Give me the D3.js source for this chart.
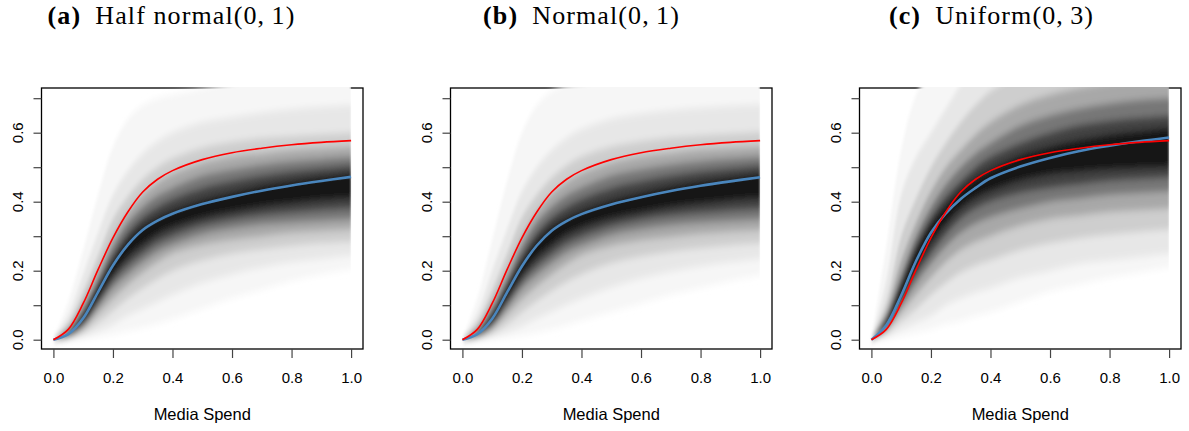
<!DOCTYPE html>
<html><head><meta charset="utf-8">
<script src="https://cdn.jsdelivr.net/npm/d3@7"></script>
<style>body{margin:0;background:#fff}</style>
</head><body>
<svg id="chart" width="1189" height="431"></svg>
<script>
// ---------- data ----------
const spend = [0, 0.05, 0.1, 0.15, 0.2, 0.25, 0.3, 0.35, 0.4, 0.5, 0.6, 0.7, 0.8, 0.9, 1.0];
const panelTags = ["(a)", "(b)", "(c)"];
const panelNames = ["Half normal(0,\u20091)", "Normal(0,\u20091)", "Uniform(0,\u20093)"];
const xTicks = [0, 0.2, 0.4, 0.6, 0.8, 1.0];
const yTicks = [0, 0.1, 0.2, 0.3, 0.4, 0.5, 0.6, 0.7];
const yLabelled = [0, 0.2, 0.4, 0.6];
const xTitle = "Media Spend";

// true response curve (red), same in all panels
const trueCurve = [0, 0.03, 0.105, 0.203, 0.295, 0.37, 0.428, 0.465, 0.49, 0.522, 0.542, 0.555, 0.565, 0.572, 0.577];
// posterior median curves (blue)
const medianA = [0, 0.016, 0.062, 0.138, 0.215, 0.275, 0.318, 0.345, 0.365, 0.393, 0.414, 0.432, 0.447, 0.46, 0.472];
const medianB = [0, 0.016, 0.061, 0.137, 0.213, 0.273, 0.316, 0.344, 0.364, 0.392, 0.413, 0.431, 0.446, 0.459, 0.471];
const medianC = [0, 0.042, 0.128, 0.228, 0.31, 0.366, 0.408, 0.44, 0.468, 0.502, 0.527, 0.547, 0.562, 0.575, 0.586];

// posterior bands: outermost (lightest) first
const bandShades = ["#f6f6f6", "#e7e7e7", "#cecece", "#a8a8a8", "#777777", "#434343", "#121212"];

const bandLoA = [
  [0, 0, 0.003, 0.008, 0.015, 0.025, 0.035, 0.047, 0.06, 0.09, 0.12, 0.145, 0.17, 0.19, 0.205],
  [0, 0.002, 0.01, 0.025, 0.045, 0.07, 0.09, 0.11, 0.13, 0.165, 0.19, 0.21, 0.225, 0.235, 0.245],
  [0, 0.004, 0.02, 0.05, 0.085, 0.12, 0.15, 0.177, 0.20, 0.23, 0.25, 0.262, 0.272, 0.28, 0.285],
  [0, 0.007, 0.03, 0.075, 0.12, 0.16, 0.195, 0.225, 0.25, 0.275, 0.29, 0.30, 0.31, 0.315, 0.32],
  [0, 0.009, 0.039, 0.094, 0.15, 0.19, 0.225, 0.255, 0.275, 0.305, 0.322, 0.334, 0.34, 0.345, 0.35],
  [0, 0.011, 0.046, 0.108, 0.17, 0.215, 0.25, 0.28, 0.30, 0.33, 0.348, 0.36, 0.368, 0.375, 0.38],
  [0, 0.013, 0.053, 0.123, 0.19, 0.24, 0.275, 0.305, 0.325, 0.352, 0.37, 0.385, 0.395, 0.404, 0.41]
];
const bandHiA = [
  [0, 0.11, 0.26, 0.42, 0.56, 0.64, 0.68, 0.70, 0.71, 0.728, 0.75, 0.78, 0.80, 0.82, 0.84],
  [0, 0.07, 0.19, 0.31, 0.42, 0.49, 0.54, 0.575, 0.60, 0.63, 0.645, 0.658, 0.668, 0.675, 0.68],
  [0, 0.05, 0.14, 0.245, 0.35, 0.415, 0.465, 0.50, 0.525, 0.556, 0.573, 0.584, 0.59, 0.595, 0.60],
  [0, 0.036, 0.113, 0.204, 0.30, 0.37, 0.42, 0.455, 0.48, 0.512, 0.53, 0.54, 0.55, 0.555, 0.56],
  [0, 0.028, 0.092, 0.178, 0.27, 0.34, 0.385, 0.418, 0.44, 0.475, 0.493, 0.507, 0.517, 0.524, 0.53],
  [0, 0.023, 0.079, 0.162, 0.245, 0.31, 0.355, 0.385, 0.408, 0.44, 0.46, 0.476, 0.488, 0.497, 0.505],
  [0, 0.019, 0.069, 0.149, 0.225, 0.288, 0.33, 0.355, 0.375, 0.405, 0.427, 0.446, 0.46, 0.472, 0.482]
];

const bandLoB = [
  [0, 0, 0.002, 0.006, 0.012, 0.02, 0.03, 0.042, 0.055, 0.08, 0.105, 0.13, 0.15, 0.17, 0.187],
  [0, 0.002, 0.009, 0.022, 0.04, 0.062, 0.082, 0.102, 0.12, 0.152, 0.178, 0.198, 0.213, 0.225, 0.235],
  [0, 0.004, 0.018, 0.046, 0.08, 0.113, 0.142, 0.168, 0.19, 0.222, 0.242, 0.256, 0.266, 0.274, 0.28],
  [0, 0.007, 0.029, 0.072, 0.117, 0.156, 0.19, 0.22, 0.245, 0.272, 0.288, 0.298, 0.307, 0.313, 0.318],
  [0, 0.009, 0.038, 0.092, 0.148, 0.188, 0.222, 0.252, 0.272, 0.303, 0.32, 0.332, 0.339, 0.344, 0.349],
  [0, 0.011, 0.045, 0.107, 0.168, 0.213, 0.248, 0.278, 0.298, 0.328, 0.347, 0.359, 0.367, 0.374, 0.379],
  [0, 0.013, 0.052, 0.122, 0.189, 0.238, 0.274, 0.304, 0.324, 0.351, 0.369, 0.384, 0.394, 0.403, 0.409]
];
const bandHiB = [
  [0, 0.12, 0.29, 0.46, 0.60, 0.68, 0.72, 0.74, 0.75, 0.77, 0.79, 0.81, 0.83, 0.84, 0.85],
  [0, 0.075, 0.20, 0.32, 0.43, 0.50, 0.55, 0.585, 0.61, 0.64, 0.655, 0.665, 0.672, 0.678, 0.682],
  [0, 0.052, 0.145, 0.25, 0.355, 0.42, 0.47, 0.505, 0.53, 0.559, 0.575, 0.586, 0.592, 0.597, 0.602],
  [0, 0.037, 0.115, 0.206, 0.302, 0.372, 0.422, 0.457, 0.482, 0.513, 0.531, 0.541, 0.551, 0.556, 0.561],
  [0, 0.028, 0.093, 0.179, 0.271, 0.341, 0.386, 0.419, 0.441, 0.476, 0.494, 0.508, 0.518, 0.525, 0.531],
  [0, 0.023, 0.079, 0.162, 0.245, 0.31, 0.355, 0.385, 0.408, 0.44, 0.46, 0.476, 0.488, 0.497, 0.505],
  [0, 0.019, 0.068, 0.148, 0.224, 0.287, 0.329, 0.354, 0.374, 0.404, 0.426, 0.445, 0.459, 0.471, 0.481]
];

const bandLoC = [
  [0, 0.002, 0.01, 0.02, 0.03, 0.045, 0.055, 0.068, 0.08, 0.11, 0.14, 0.16, 0.18, 0.195, 0.21],
  [0, 0.008, 0.03, 0.05, 0.07, 0.10, 0.12, 0.137, 0.15, 0.18, 0.20, 0.22, 0.23, 0.24, 0.25],
  [0, 0.017, 0.054, 0.09, 0.13, 0.165, 0.195, 0.215, 0.23, 0.26, 0.28, 0.295, 0.305, 0.313, 0.32],
  [0, 0.026, 0.078, 0.13, 0.18, 0.225, 0.26, 0.283, 0.30, 0.33, 0.35, 0.36, 0.37, 0.375, 0.38],
  [0, 0.032, 0.097, 0.163, 0.22, 0.27, 0.31, 0.337, 0.355, 0.38, 0.40, 0.41, 0.42, 0.425, 0.43],
  [0, 0.037, 0.112, 0.188, 0.25, 0.305, 0.35, 0.38, 0.40, 0.425, 0.44, 0.45, 0.46, 0.465, 0.47],
  [0, 0.04, 0.122, 0.208, 0.28, 0.335, 0.38, 0.41, 0.43, 0.46, 0.478, 0.487, 0.493, 0.497, 0.50]
];
const bandHiC = [
  [0, 0.27, 0.55, 0.71, 0.78, 0.85, 0.90, 0.95, 1.0, 1.0, 1.0, 1.0, 1.0, 1.0, 1.0],
  [0, 0.17, 0.42, 0.53, 0.60, 0.67, 0.74, 0.80, 0.85, 0.88, 0.90, 0.92, 0.93, 0.94, 0.95],
  [0, 0.11, 0.30, 0.41, 0.50, 0.57, 0.63, 0.68, 0.72, 0.77, 0.80, 0.82, 0.83, 0.84, 0.85],
  [0, 0.085, 0.23, 0.34, 0.43, 0.50, 0.55, 0.595, 0.63, 0.68, 0.71, 0.73, 0.745, 0.755, 0.76],
  [0, 0.07, 0.188, 0.30, 0.385, 0.45, 0.50, 0.54, 0.57, 0.62, 0.65, 0.67, 0.685, 0.695, 0.70],
  [0, 0.06, 0.167, 0.275, 0.355, 0.415, 0.46, 0.50, 0.53, 0.57, 0.60, 0.622, 0.635, 0.643, 0.65],
  [0, 0.054, 0.152, 0.256, 0.335, 0.39, 0.435, 0.47, 0.495, 0.535, 0.56, 0.58, 0.595, 0.605, 0.615]
];

const panels = [
  {lo: bandLoA, hi: bandHiA, median: medianA},
  {lo: bandLoB, hi: bandHiB, median: medianB},
  {lo: bandLoC, hi: bandHiC, median: medianC}
];

// ---------- drawing ----------
const svg = d3.select("#chart");
const defs = svg.append("defs");
const f = defs.append("filter").attr("id", "vblur")
  .attr("x", "-5%").attr("y", "-20%").attr("width", "110%").attr("height", "140%");
f.append("feGaussianBlur").attr("stdDeviation", "1.2 3.6");

const T = 88, B = 349, W = 321.5;
const y = d3.scaleLinear().domain([0, 0.7]).range([339.7, 98.2]);
const fmt = d3.format(".1f");
const curve = d3.curveCatmullRom.alpha(0.5);
const sans = "Liberation Sans, Arial, Helvetica, sans-serif";

panels.forEach((p, i) => {
  const L = 41.5 + 409 * i, R = L + W;
  const x = d3.scaleLinear().domain([-0.04, 1.04]).range([L, R]);
  const g = svg.append("g");

  // box
  g.append("rect").attr("x", L).attr("y", T).attr("width", W).attr("height", B - T)
    .attr("fill", "none").attr("stroke", "#000").attr("stroke-width", 1.3);

  // clips
  defs.append("clipPath").attr("id", "bclip" + i).append("rect")
    .attr("x", L + 1).attr("y", T - 1).attr("width", x(1) - L - 1).attr("height", B - T);
  defs.append("clipPath").attr("id", "lclip" + i).append("rect")
    .attr("x", L + 1).attr("y", T - 1).attr("width", W - 2).attr("height", B - T);

  const bands = g.append("g").attr("clip-path", `url(#bclip${i})`)
    .append("g").attr("filter", "url(#vblur)");
  p.lo.forEach((lo, k) => {
    const area = d3.area()
      .x((d, j) => x(spend[j]))
      .y0((d, j) => y(lo[j]))
      .y1((d, j) => y(p.hi[k][j]))
      .curve(curve);
    bands.append("path").datum(spend).attr("d", area).attr("fill", bandShades[k]);
  });

  const line = d3.line().x((d, j) => x(spend[j])).y(d => y(d)).curve(curve);
  const lines = g.append("g").attr("clip-path", `url(#lclip${i})`);
  lines.append("path").datum(p.median).attr("d", line)
    .attr("fill", "none").attr("stroke", "#4a86bd").attr("stroke-width", 2.6);
  lines.append("path").datum(trueCurve).attr("d", line)
    .attr("fill", "none").attr("stroke", "#ff0000").attr("stroke-width", 1.6);

  // x axis
  const xa = g.append("g").attr("transform", `translate(0,${B})`)
    .call(d3.axisBottom(x).tickValues(xTicks).tickSize(9).tickPadding(14.5).tickSizeOuter(0).tickFormat(fmt));
  xa.select(".domain").remove();
  xa.selectAll(".tick line").attr("stroke", "#444").attr("stroke-width", 1.2);
  xa.selectAll(".tick text").attr("font-family", sans)
    .attr("font-size", 15).attr("fill", "#000");

  // y axis
  const ya = g.append("g").attr("transform", `translate(${L},0)`)
    .call(d3.axisLeft(y).tickValues(yTicks).tickSize(8).tickSizeOuter(0).tickFormat(""));
  ya.select(".domain").remove();
  ya.selectAll(".tick line").attr("stroke", "#444").attr("stroke-width", 1.2);
  yLabelled.forEach(t => {
    const bx = L - 18.2, by = y(t);
    g.append("text").attr("x", bx).attr("y", by)
      .attr("transform", `rotate(-90,${bx},${by})`)
      .attr("text-anchor", "middle")
      .attr("font-family", sans).attr("font-size", 15)
      .text(fmt(t));
  });

  // x title
  g.append("text").attr("x", (x(0) + x(1)) / 2).attr("y", 420)
    .attr("text-anchor", "middle")
    .attr("font-family", sans).attr("font-size", 16.5)
    .text(xTitle);

  // panel caption
  const cap = svg.append("text").attr("x", 171.5 + 410 * i).attr("y", 23.5)
    .attr("text-anchor", "middle")
    .attr("font-family", "Liberation Serif, Times New Roman, serif").attr("font-size", 26)
    .attr("letter-spacing", 1.1);
  cap.append("tspan").attr("font-weight", "bold").text(panelTags[i]);
  cap.append("tspan").text("\u2002" + panelNames[i]);
});
</script>
</body></html>
